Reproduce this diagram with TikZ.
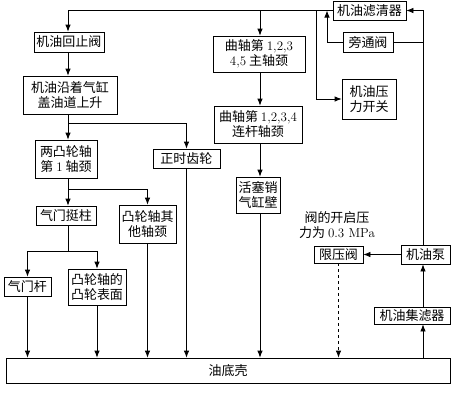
\documentclass[tikz,border=0pt]{standalone}
\usepackage{fontspec}
\usepackage{tikz}
\usetikzlibrary{arrows.meta}
\newfontfamily\cjk{Noto Sans CJK SC}
\begin{document}
\begin{tikzpicture}[x=1pt,y=-1pt,line width=0.8pt,
  box/.style={draw,black,align=center,font=\cjk\fontsize{13}{15}\selectfont},
  flow/.style={-{Latex[length=7pt,width=5.5pt]}}]
\tikzstyle{every node}+=[inner sep=0pt]
\useasboundingbox (0,0) rectangle (451,400);
\fill [white] (0,0) rectangle (451,400);
\node [box,minimum width=73pt,minimum height=19pt] (hzq) at (369.5,10.5) {机油滤清器};
\node [box,minimum width=50pt,minimum height=20pt] (ptf) at (368,42) {旁通阀};
\node [box,minimum width=54pt,minimum height=40pt] (ylkg) at (369,99) {机油压\\力开关};
\node [box,minimum width=70pt,minimum height=20pt] (hzf) at (69,42) {机油回止阀};
\node [box,minimum width=94pt,minimum height=38pt] (gg) at (70,95) {机油沿着气缸\\盖油道上升};
\node [box,minimum width=62pt,minimum height=38pt] (tlz) at (66,159) {两凸轮轴\\第 {\rmfamily 1} 轴颈};
\node [box,minimum width=67pt,minimum height=19pt] (zs) at (186.5,158.5) {正时齿轮};
\node [box,minimum width=92pt,minimum height=36pt] (zzj) at (259,54) {曲轴第 {\rmfamily 1,2,3}\\{\rmfamily 4,5} 主轴颈};
\node [box,minimum width=88pt,minimum height=37pt] (lg) at (258,124.5) {曲轴第 {\rmfamily 1,2,3,4}\\连杆轴颈};
\node [box,minimum width=44pt,minimum height=36pt] (hs) at (258,195) {活塞销\\气缸壁};
\node [box,minimum width=60pt,minimum height=19pt] (tz) at (66,215.5) {气门挺柱};
\node [box,minimum width=57pt,minimum height=38pt] (qt) at (147.5,224) {凸轮轴其\\他轴颈};
\node [box,minimum width=47pt,minimum height=19pt] (qmg) at (27.5,286.5) {气门杆};
\node [box,minimum width=58pt,minimum height=36pt] (tlbm) at (97,287) {凸轮轴的\\凸轮表面};
\node [box,minimum width=49pt,minimum height=17pt] (xyf) at (338.5,254.5) {限压阀};
\node [box,minimum width=49pt,minimum height=19pt] (byb) at (425.5,254.5) {机油泵};
\node [box,minimum width=76pt,minimum height=17pt] (jlq) at (412,315.5) {机油集滤器};
\node [box,minimum width=444pt,minimum height=25pt] (dk) at (228,370.5) {油底壳};
\node [align=center,font=\cjk\fontsize{13}{15}\selectfont] (kqyl) at (337,225) {阀的开启压\\力为 {\rmfamily 0.3 MPa}};
\coordinate (col) at (68,10.5);
\coordinate (zcol) at (260,10.5);
\coordinate (rcol) at (423,10.5);
\coordinate (gg1) at (68,123);
\coordinate (tlz1) at (68,189);
\coordinate (tz1) at (68,251);
\coordinate (pt1) at (327,10.5);
\coordinate (kg1) at (316,10.5);
\draw [flow] (hzq.west) -| (hzf.north -| col);
\draw [flow] (zcol) -- (zzj.north -| zcol);
\draw [flow] (ptf.west) -| (pt1);
\draw (ptf.east) -- (ptf.east -| rcol);
\draw [flow] (kg1) |- (ylkg.west);
\draw [flow] (byb.north -| rcol) |- (hzq.east);
\draw [flow] (hzf.south -| col) -- (gg.north -| col);
\draw [flow] (gg.south -| col) -- (tlz.north -| col);
\draw [flow] (gg1) -| (zs.north);
\draw [flow] (tlz.south -| col) -- (tz.north -| col);
\draw [flow] (tlz1) -| (qt.north);
\draw (tz.south -| col) -- (tz1);
\draw [flow] (tz1) -| (qmg.north);
\draw [flow] (tz1) -| (tlbm.north);
\draw [flow] (qmg.south) -- (qmg.south |- dk.north);
\draw [flow] (tlbm.south) -- (tlbm.south |- dk.north);
\draw [flow] (qt.south) -- (qt.south |- dk.north);
\draw [flow] (zs.south) -- (zs.south |- dk.north);
\draw [flow] (zzj.south -| zcol) -- (lg.north -| zcol);
\draw [flow] (lg.south -| zcol) -- (hs.north -| zcol);
\draw [flow] (hs.south -| zcol) -- (dk.north -| zcol);
\draw [flow] (byb.west) -- (xyf.east);
\draw [flow,dashed] (xyf.south) -- (xyf.south |- dk.north);
\draw [flow] (dk.north -| rcol) -- (jlq.south -| rcol);
\draw [flow] (jlq.north -| rcol) -- (byb.south -| rcol);
\end{tikzpicture}
\end{document}
